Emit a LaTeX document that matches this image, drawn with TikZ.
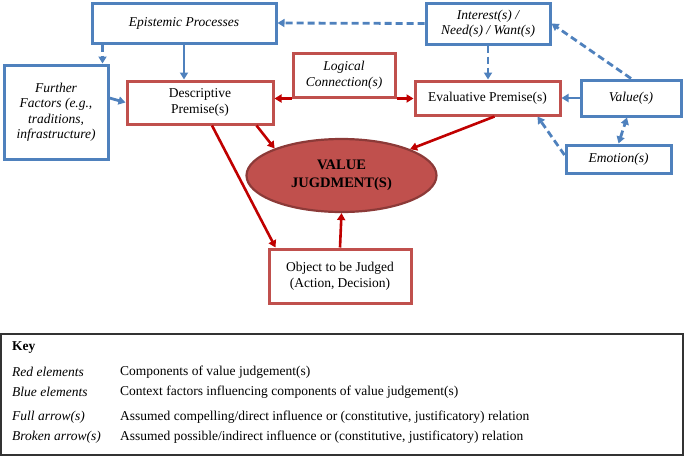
\documentclass[tikz,border=0pt]{standalone}
\usepackage{fontspec}
\setmainfont{LiberationSerif-Regular.ttf}[BoldFont=LiberationSerif-Bold.ttf, ItalicFont=LiberationSerif-Italic.ttf, BoldItalicFont=LiberationSerif-BoldItalic.ttf]
\usetikzlibrary{arrows.meta,shapes.geometric,calc}
\definecolor{bl}{HTML}{4F81BD}
\definecolor{rb}{HTML}{C0504D}
\definecolor{ra}{HTML}{C00000}
\definecolor{ed}{HTML}{8C3A38}
\tikzset{
  txt/.style={font=\fontsize{13.5}{15.5}\selectfont, align=center, inner sep=0pt},
  bbox/.style={txt, draw=bl, line width=3pt, fill=white, font=\fontsize{13.5}{15.5}\selectfont\itshape},
  rbox/.style={txt, draw=rb, line width=3pt, fill=white},
  tip/.style={-{Triangle[length=7pt,width=8pt]}},
  btip/.style={{Triangle[length=7pt,width=8pt]}-{Triangle[length=7pt,width=8pt]}},
  bsolid/.style={draw=bl, line width=2.8pt, tip},
  bdash/.style={draw=bl, line width=2.8pt, tip, dash pattern=on 7pt off 4pt},
  rsolid/.style={draw=ra, line width=2.6pt, tip},
  keyl/.style={anchor=west, inner sep=0pt, font=\fontsize{13.5}{15.5}\selectfont\itshape},
  keyr/.style={anchor=west, inner sep=0pt, font=\fontsize{13.5}{15.5}\selectfont},
}
\begin{document}
\begin{tikzpicture}[x=1pt,y=-1pt]
\useasboundingbox (0,0) rectangle (685,456);
% nodes
\node[bbox, minimum width=184pt, minimum height=40pt] (epi) at (184,23) {Epistemic Processes};
\node[bbox, minimum width=124pt, minimum height=41pt] (int) at (488,23.5) {Interest(s) /\\Need(s) / Want(s)};
\node[bbox, minimum width=104pt, minimum height=94pt] (fur) at (56,112) {Further\\Factors (e.g.,\\traditions,\\infrastructure)};
\node[rbox, minimum width=146pt, minimum height=43pt] (des) at (200,102.5) {Descriptive\\Premise(s)};
\node[rbox, font=\fontsize{13.5}{15.5}\selectfont\itshape, minimum width=102pt, minimum height=44pt] (log) at (344,75) {Logical\\Connection(s)};
\node[rbox, minimum width=145pt, minimum height=34pt] (eva) at (487.5,98) {Evaluative Premise(s)};
\node[bbox, minimum width=100pt, minimum height=36pt] (val) at (631,98) {Value(s)};
\node[bbox, minimum width=105pt, minimum height=28pt] (emo) at (618.5,159) {Emotion(s)};
\node[ellipse, draw=ed, fill=rb, line width=2.2pt, minimum width=190pt, minimum height=73pt, inner sep=0pt, align=center,
      font=\fontsize{14.5}{18}\selectfont\bfseries] (vj) at (341.5,175.5) {VALUE\\JUGDMENT(S)};
\node[rbox, minimum width=142pt, minimum height=54pt] (obj) at (340,276) {Object to be Judged\\(Action, Decision)};

% blue connectors
\draw[bdash] ([xshift=12pt]epi.south west) -- ([xshift=12pt]epi.south west |- fur.north);
\draw[bsolid] (epi.south) -- (epi.south |- des.north);
\draw[bsolid] ([yshift=14pt]fur.east) -- (des.west);
\draw[bdash] (int.west) -- (epi.east);
\draw[bdash] (int.south) -- (int.south |- eva.north);
\draw[bdash] (val.north) -- (int.east);
\draw[bsolid] (val.west) -- (eva.east);
\draw[bdash, btip] (emo.north) -- ([xshift=-4pt]val.south);
\draw[bdash] ([yshift=4pt]emo.west) -- ([xshift=-24pt]eva.south east);

% red connectors
\draw[rsolid] (log.south west) -- (log.south west -| des.east);
\draw[rsolid] (log.south east) -- (log.south east -| eva.west);
\draw[rsolid] ([xshift=-18pt]des.south east) -- (vj.158);
\draw[rsolid] ([xshift=7pt]eva.south) -- (vj.21);
\draw[rsolid] ([xshift=12pt]des.south) -- ([xshift=8pt]obj.north west);
\draw[rsolid] (obj.north) -- (vj.south);

% key
\node[draw=black!80, line width=1.2pt, minimum width=682pt, minimum height=121pt, inner sep=0pt] (keybox) at (342,394.5) {};
\node[keyl, font=\fontsize{13.5}{15.5}\selectfont\bfseries] (k0) at (12,348) {Key};
\node[keyl] (k1) at (12,372) {Red elements};
\node[keyr] (k1r) at (120,372) {Components of value judgement(s)};
\node[keyl] (k2) at (12,392) {Blue elements};
\node[keyr] (k2r) at (120,392) {Context factors influencing components of value judgement(s)};
\node[keyl] (k3) at (12,417) {Full arrow(s)};
\node[keyr] (k3r) at (120,417) {Assumed compelling/direct influence or (constitutive, justificatory) relation};
\node[keyl] (k4) at (12,437) {Broken arrow(s)};
\node[keyr] (k4r) at (120,437) {Assumed possible/indirect influence or (constitutive, justificatory) relation};
\end{tikzpicture}
\end{document}
